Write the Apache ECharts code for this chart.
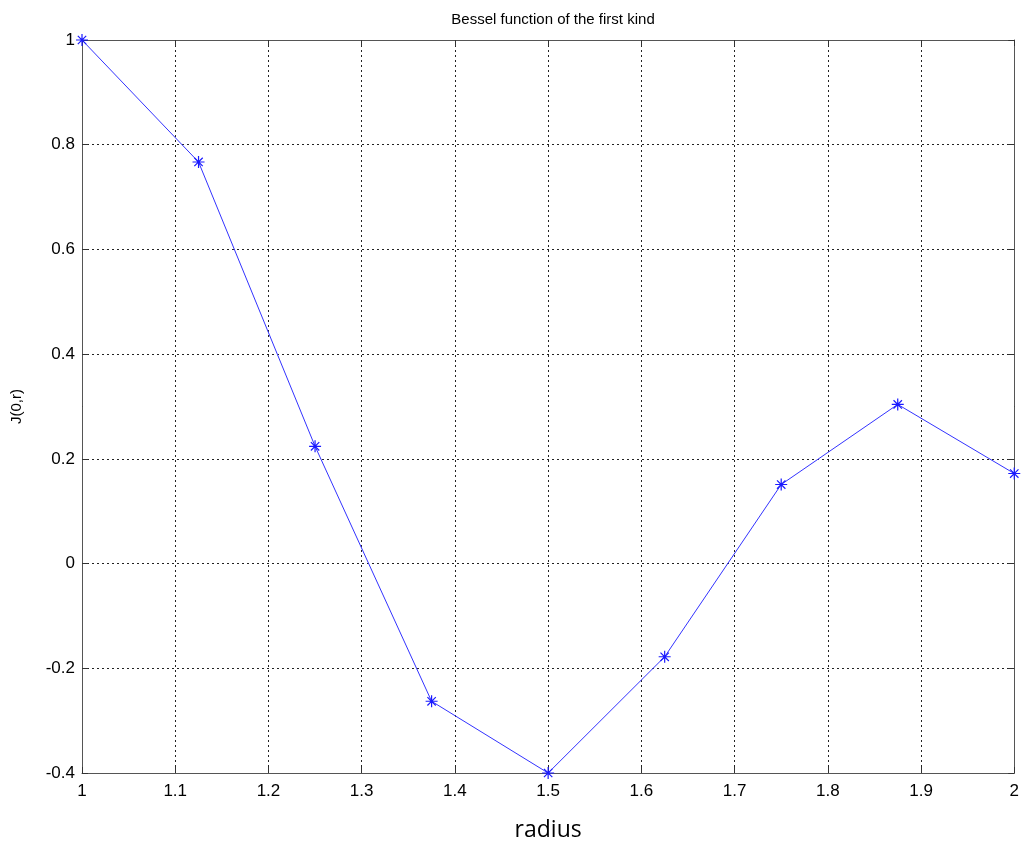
<!DOCTYPE html>
<html>
<head>
<meta charset="utf-8">
<script src="https://cdn.jsdelivr.net/npm/echarts@6/dist/echarts.min.js"></script>
<style>html,body{margin:0;padding:0;background:#fff;}#c{width:1022px;height:847px;}</style>
</head>
<body>
<div id="c"></div>
<script>
const radius = [1, 1.125, 1.25, 1.375, 1.5, 1.625, 1.75, 1.875, 2];
const j0 = [1.0, 0.767, 0.224, -0.263, -0.4, -0.178, 0.151, 0.304, 0.172];
const titleText = 'Bessel function of the first kind';
const xName = 'radius';
const yName = 'J(0,r)';

const chart = echarts.init(document.getElementById('c'), null, {renderer: 'canvas'});
const star = 'path://M0,-6L0,6M-6,0L6,0M-4.2,-4.2L4.2,4.2M-4.2,4.2L4.2,-4.2';
const labelFont = {fontFamily: 'Liberation Sans, Arial, sans-serif', fontSize: 17, color: '#000'};
const gridLine = {show: true, lineStyle: {color: '#222', type: [2, 3], width: 1}};
const axisLine = {show: true, onZero: false, lineStyle: {color: '#555', width: 1}};
const tick = {show: true, inside: true, length: 6, lineStyle: {color: '#333'}};
chart.setOption({
  animation: false,
  backgroundColor: '#fff',
  title: {
    text: titleText, left: 548, textAlign: 'center', top: 7,
    textStyle: {fontFamily: 'Liberation Sans, Arial, sans-serif', fontSize: 15, fontWeight: 'normal', color: '#000'}
  },
  grid: {left: 82, right: 7, top: 40, bottom: 72, containLabel: false},
  xAxis: [{
    type: 'value', min: 1, max: 2, interval: 0.1, position: 'bottom',
    name: xName, nameLocation: 'middle', nameGap: 46,
    nameTextStyle: {fontFamily: 'Open Sans, Noto Sans, sans-serif', fontSize: 23, color: '#000'},
    axisLine: axisLine, axisTick: tick,
    axisLabel: Object.assign({margin: 10, formatter: v => String(+v.toFixed(1))}, labelFont),
    splitLine: gridLine
  }, {
    type: 'value', min: 1, max: 2, interval: 0.1, position: 'top',
    axisLine: axisLine, axisTick: tick,
    axisLabel: {show: false}, splitLine: {show: false}
  }],
  yAxis: [{
    type: 'value', min: -0.4, max: 1, interval: 0.2, position: 'left',
    name: yName, nameLocation: 'middle', nameGap: 58, nameRotate: 90,
    nameTextStyle: {fontFamily: 'Liberation Sans, Arial, sans-serif', fontSize: 15, color: '#000'},
    axisLine: axisLine, axisTick: tick,
    axisLabel: Object.assign({margin: 7, formatter: v => String(+v.toFixed(1))}, labelFont),
    splitLine: gridLine
  }, {
    type: 'value', min: -0.4, max: 1, interval: 0.2, position: 'right',
    axisLine: axisLine, axisTick: tick,
    axisLabel: {show: false}, splitLine: {show: false}
  }],
  series: [{
    type: 'line',
    data: radius.map((r, i) => [r, j0[i]]),
    symbol: star, symbolSize: 12,
    showAllSymbol: true,
    lineStyle: {color: '#3333ff', width: 1},
    itemStyle: {color: 'rgba(0,0,0,0)', borderColor: '#1a1aff', borderWidth: 1.2},
    clip: false,
    z: 5
  }]
});
</script>
</body>
</html>
